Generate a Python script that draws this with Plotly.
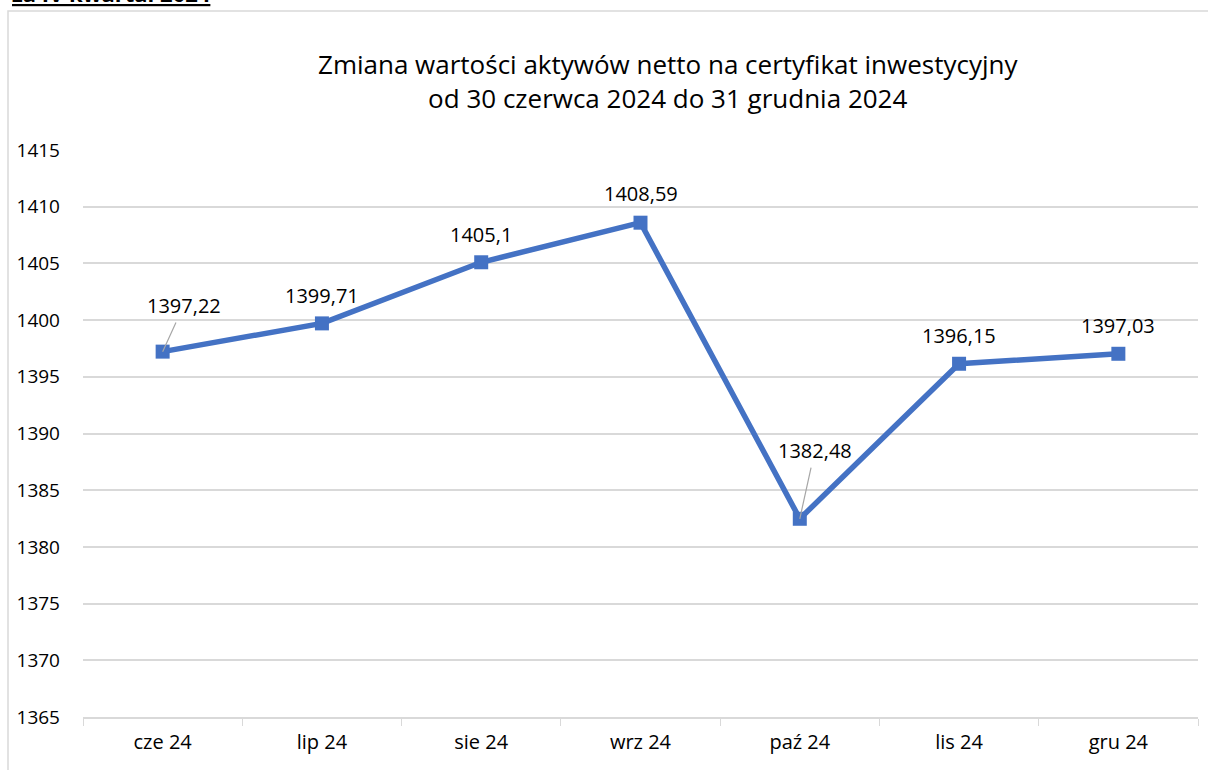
import plotly.graph_objects as go

categories = ["cze 24", "lip 24", "sie 24", "wrz 24", "paź 24", "lis 24", "gru 24"]
values = [1397.22, 1399.71, 1405.1, 1408.59, 1382.48, 1396.15, 1397.03]
value_labels = ["1397,22", "1399,71", "1405,1", "1408,59", "1382,48", "1396,15", "1397,03"]
y_ticks = [1365, 1370, 1375, 1380, 1385, 1390, 1395, 1400, 1405, 1410, 1415]

# label offsets in pixels (ax, ay) and whether a leader line is drawn
label_offsets = [(21, -46), (0, -28), (0, -28), (0, -29), (15, -68), (0, -28), (0, -28)]
leader = [True, False, False, False, True, False, False]

W, H = 1208, 770
L, R, T, B = 83, 10, 150, 53
pw, ph = W - L - R, H - T - B

def px(x):
    return (x - L) / pw

def py(y):
    return (H - B - y) / ph

FONT = "Open Sans"

fig = go.Figure()
fig.add_trace(go.Scatter(
    x=categories, y=values, mode="lines+markers",
    line=dict(color="#4472C4", width=5.5),
    marker=dict(symbol="square", size=14, color="#4472C4"),
    hoverinfo="x+y", showlegend=False,
))

annotations = []
for c, v, t, (ax, ay), ld in zip(categories, values, value_labels, label_offsets, leader):
    annotations.append(dict(
        x=c, y=v, xref="x", yref="y", text=t, showarrow=True,
        ax=ax, ay=ay, arrowhead=0, arrowwidth=1.2,
        arrowcolor="#A6A6A6" if ld else "rgba(0,0,0,0)",
        standoff=0, startstandoff=2,
        font=dict(family=FONT, size=20, color="#000000"),
    ))

annotations.append(dict(
    x=px(668), y=py(81), xref="paper", yref="paper",
    text="Zmiana wartości aktywów netto na certyfikat inwestycyjny<br>od 30 czerwca 2024 do 31 grudnia 2024",
    showarrow=False, xanchor="center", yanchor="middle",
    font=dict(family=FONT, size=26, color="#000000"),
))
annotations.append(dict(
    x=px(10), y=py(10), xref="paper", yref="paper",
    text="<b><u>za IV kwartał 2024</u></b>", showarrow=False,
    xanchor="left", yanchor="bottom",
    font=dict(family=FONT, size=22, color="#000000"),
))

shapes = [dict(
    type="rect", xref="paper", yref="paper",
    x0=px(8), x1=px(1330), y0=py(900), y1=py(11),
    line=dict(color="#D9D9D9", width=1.5), fillcolor="rgba(0,0,0,0)", layer="below",
)]

fig.update_layout(
    width=W, height=H,
    margin=dict(l=L, r=R, t=T, b=B, autoexpand=False),
    paper_bgcolor="white", plot_bgcolor="white",
    annotations=annotations, shapes=shapes,
    font=dict(family=FONT, size=18, color="#000000"),
    xaxis=dict(
        type="category", range=[-0.5, 6.5],
        showgrid=False, showline=True, linecolor="#D9D9D9", linewidth=1.5,
        ticks="outside", tickson="boundaries", ticklen=7, tickcolor="#D9D9D9",
        tickfont=dict(family=FONT, size=20, color="#000000"),
        ticklabelstandoff=6,
    ),
    yaxis=dict(
        range=[1365, 1415], tickvals=y_ticks,
        showgrid=True, gridcolor="#D9D9D9", gridwidth=1.5,
        zeroline=False, showline=False, ticks="",
        tickfont=dict(family=FONT, size=19, color="#000000"),
        ticklabelstandoff=22,
    ),
)

fig.write_html("out.html", config={"displayModeBar": False},
               post_script="document.body.style.margin='0';")
